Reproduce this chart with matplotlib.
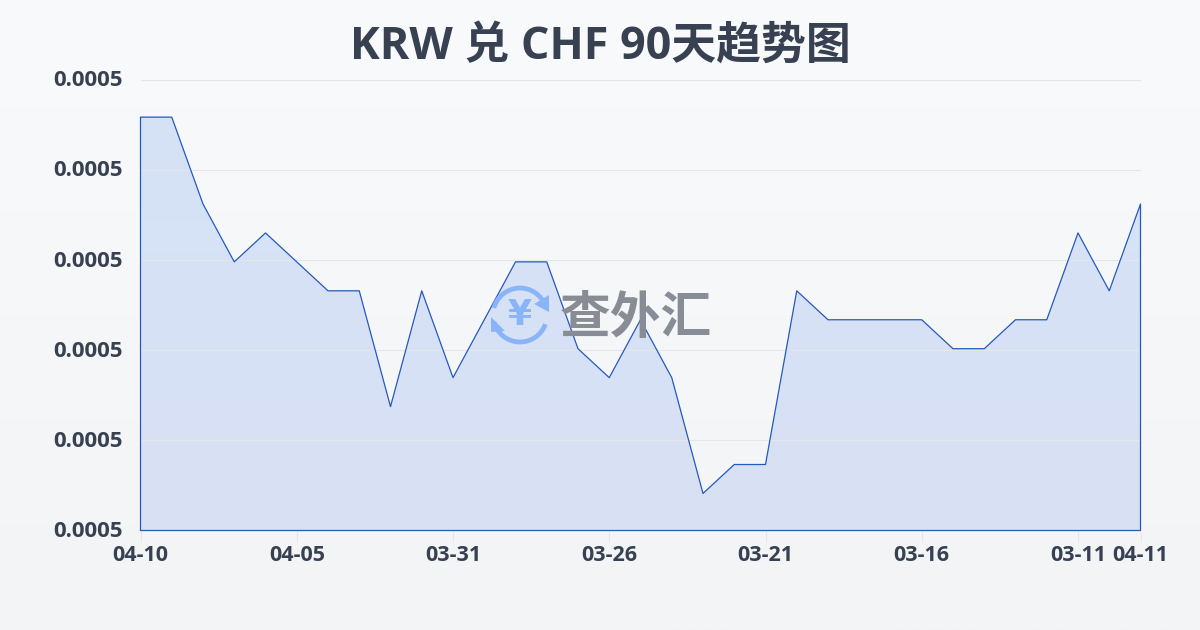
import matplotlib
matplotlib.use("Agg")
import matplotlib.pyplot as plt
import numpy as np
from matplotlib.patches import Arc, Polygon
from matplotlib.colors import LinearSegmentedColormap
from matplotlib.transforms import ScaledTranslation

plt.rcParams['font.family'] = ['Open Sans', 'Noto Sans CJK SC', 'DejaVu Sans']

title = 'KRW 兑 CHF 90天趋势图'
rates = [0.000493, 0.000493, 0.000490, 0.000488, 0.000489, 0.000488, 0.000487, 0.000487,
         0.000483, 0.000487, 0.000484, 0.000486, 0.000488, 0.000488, 0.000485, 0.000484,
         0.000486, 0.000484, 0.000480, 0.000481, 0.000481, 0.000487, 0.000486, 0.000486,
         0.000486, 0.000486, 0.000485, 0.000485, 0.000486, 0.000486, 0.000489, 0.000487,
         0.000490]
xtick_pos = [0, 5, 10, 15, 20, 25, 30, 32]
xtick_labels = ['04-10', '04-05', '03-31', '03-26', '03-21', '03-16', '03-11', '04-11']
ytick_labels = ['0.0005'] * 6
y_low = 0.00047872
y_high = 0.00049429

text_col = '#374151'
line_col = '#2659bd'

fig = plt.figure(figsize=(12, 6.3), dpi=100)

# page background
bg = fig.add_axes([0, 0, 1, 1], zorder=0)
bg_cmap = LinearSegmentedColormap.from_list('bg', ['#f3f4f6', '#f9fafc'])
bg.imshow(np.linspace(0, 1, 256).reshape(-1, 1), aspect='auto', origin='lower', cmap=bg_cmap, extent=[0, 1, 0, 1])
bg.axis('off')

ax = fig.add_axes([140.5 / 1200, 1 - 530.5 / 630, 1000 / 1200, 450.7 / 630], zorder=1)
ax.patch.set_alpha(0)
x = np.arange(len(rates))
ax.set_xlim(0, len(rates) - 1)
ax.set_ylim(y_low, y_high)

# fill with a slight vertical gradient, clipped to the area under the line
fill_cmap = LinearSegmentedColormap.from_list('fill', ['#d9e0f4', '#d5e3f7'])
grad = ax.imshow(np.linspace(0, 1, 256).reshape(-1, 1), aspect='auto', origin='lower', cmap=fill_cmap,
                 extent=[0, len(rates) - 1, y_low, rates[0]], zorder=1)
poly = ax.fill_between(x, rates, y_low, facecolor='none', edgecolor=line_col, linewidth=0.9, zorder=4, clip_on=False)
grad.set_clip_path(poly.get_paths()[0], transform=ax.transData)
ax.set_ylim(y_low, y_high)

yt = np.linspace(y_low, y_high, 6)
ax.set_yticks(yt)
ax.set_yticklabels(ytick_labels, fontsize=16, fontweight='bold', color=text_col)
ax.set_xticks(xtick_pos)
ax.set_xticklabels(xtick_labels, fontsize=15.5, fontweight='bold', color=text_col)
ax.tick_params(axis='y', length=0, pad=13)
ax.tick_params(axis='x', length=8, width=0.8, color='#e5e7eb', pad=2.5)
ax.grid(axis='y', color='#e3e6eb', linewidth=0.8, zorder=2)
ax.set_axisbelow(False)
for s in ax.spines.values():
    s.set_visible(False)
for line in ax.get_ygridlines():
    line.set_zorder(2)
up = ScaledTranslation(0, 1.5 / 100, fig.dpi_scale_trans)
for lab in ax.get_yticklabels():
    lab.set_transform(lab.get_transform() + up)

fig.text(0.5, 1 - 47 / 630, title, ha='center', va='center', fontsize=32.3, fontweight='bold', color=text_col)

# watermark, drawn in pixel coordinates
wm = fig.add_axes([0, 0, 1, 1], zorder=2)
wm.set_xlim(0, 1200)
wm.set_ylim(630, 0)
wm.axis('off')
icon = '#8ab4f8'
wm.add_patch(Arc((520, 315), 54, 54, theta1=195, theta2=340, color=icon, lw=3.4))
wm.add_patch(Arc((520, 315), 54, 54, theta1=20, theta2=165, color=icon, lw=3.4))
wm.add_patch(Polygon([[549, 312], [549, 295], [534, 304]], color=icon, lw=0))
wm.add_patch(Polygon([[491, 317], [491, 332], [505, 331]], color=icon, lw=0))
wm.text(520, 315, '¥', ha='center', va='center', fontsize=25, fontweight='bold', color=icon, family=['DejaVu Sans'])
wm.text(636, 319, '查外汇', ha='center', va='center', fontsize=36.5, fontweight='bold', color='#888c94', family=['Noto Sans CJK SC'])

fig.savefig('out.png', dpi=100)
